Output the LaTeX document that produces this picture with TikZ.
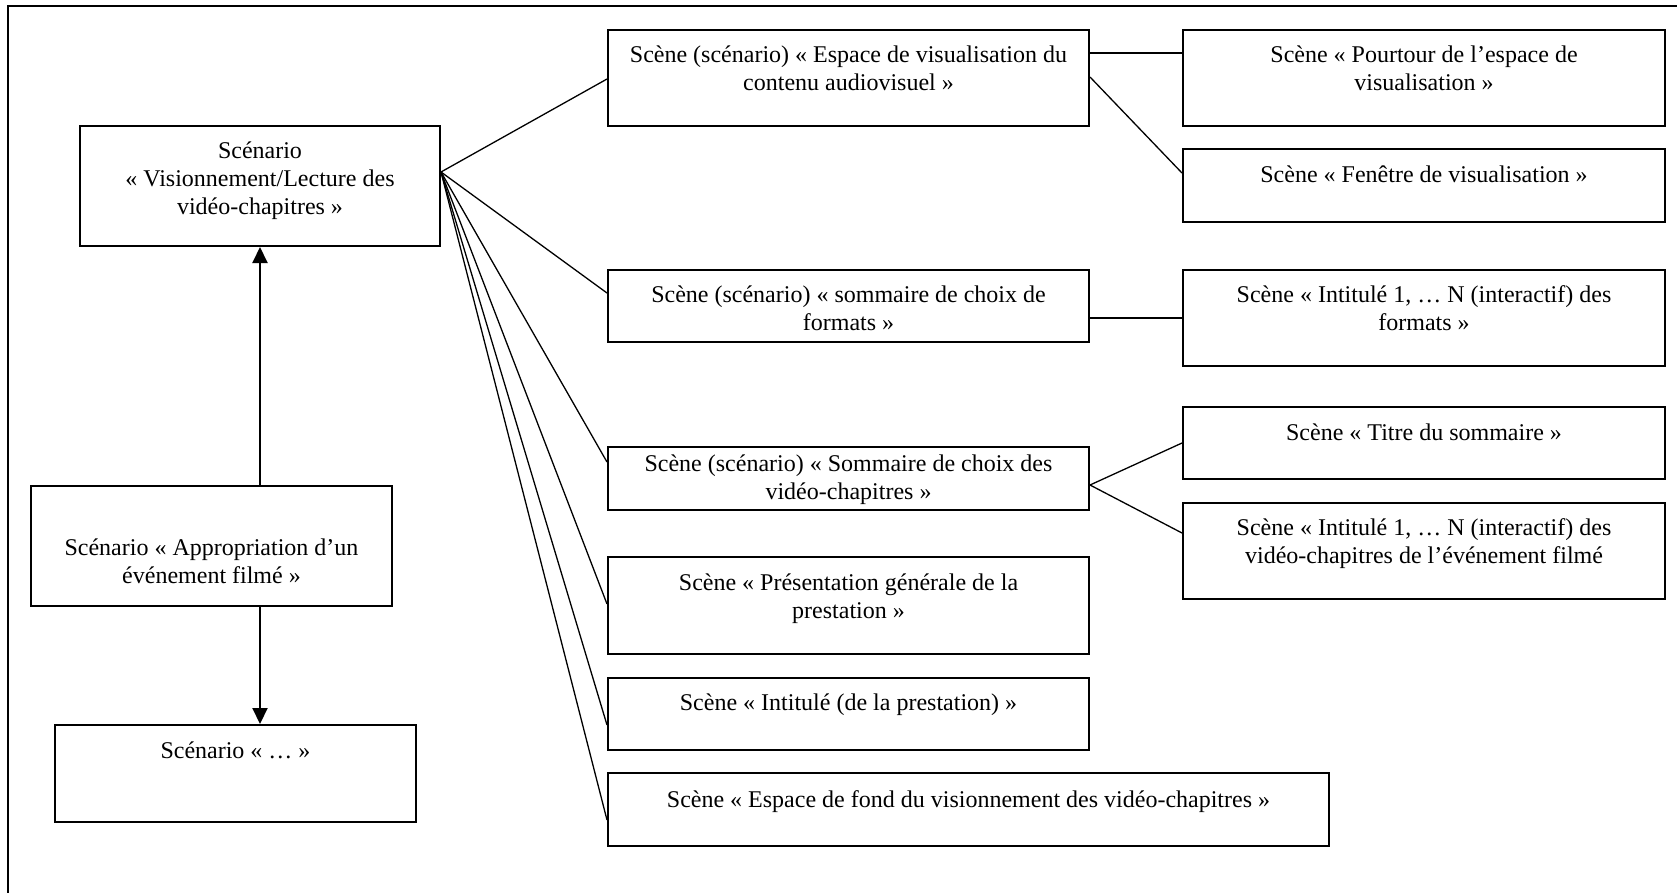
\documentclass[tikz,border=0pt]{standalone}
\usepackage{fontspec}
\setmainfont{Liberation Serif}
\usetikzlibrary{arrows.meta}
\tikzset{
  boxst/.style={draw=black, line width=2pt, rectangle, inner sep=0pt, fill=white},
  txtst/.style={inner sep=0pt, align=center, anchor=north, font=\fontsize{24}{28}\selectfont},
  link/.style={draw=black, line width=1.3pt},
  flow/.style={draw=black, line width=2pt, -{Triangle[length=16pt,width=15pt]}},
}
% name, x1, y1, x2, y2, first baseline, text
\newcommand{\mybox}[7]{%
  \node[boxst, minimum width={(#4-#2)*1pt}, minimum height={(#5-#3)*1pt}] (#1) at ({(#2+#4)/2},{(#3+#5)/2}) {};
  \node[txtst] (#1t) at ({(#2+#4)/2},{#6-19.6}) {\strut #7};
}
\begin{document}
\begin{tikzpicture}[x=1pt,y=-1pt]
\useasboundingbox (0,0) rectangle (1677,892);
\fill[white] (0,0) rectangle (1677,892);
% outer frame (only top and left edges are visible)
\coordinate (fTL) at (8,6);
\coordinate (fTR) at (1690,6);
\coordinate (fBL) at (8,905);
\draw[line width=2pt] (fBL) -- (fTL) -- (fTR);

\mybox{A}{80}{126}{440}{246}{158}{Scénario\\« Visionnement/Lecture des\\vidéo-chapitres »}
\mybox{B}{31}{486}{392}{606}{555}{Scénario « Appropriation d’un\\événement filmé »}
\mybox{C}{55}{725}{416}{822}{758}{Scénario « … »}

\mybox{S1}{608}{30}{1089}{126}{62}{Scène (scénario) « Espace de visualisation du\\contenu audiovisuel »}
\mybox{T1}{1183}{30}{1665}{126}{62}{Scène « Pourtour de l’espace de\\visualisation »}
\mybox{T2}{1183}{149}{1665}{222}{182}{Scène « Fenêtre de visualisation »}
\mybox{S2}{608}{270}{1089}{342}{302}{Scène (scénario) « sommaire de choix de\\formats »}
\mybox{U1}{1183}{270}{1665}{366}{302}{Scène « Intitulé 1, … N (interactif) des\\formats »}
\mybox{V1}{1183}{407}{1665}{479}{440}{Scène « Titre du sommaire »}
\mybox{S3}{608}{447}{1089}{510}{471}{Scène (scénario) « Sommaire de choix des\\vidéo-chapitres »}
\mybox{V2}{1183}{503}{1665}{599}{535}{Scène « Intitulé 1, … N (interactif) des\\vidéo-chapitres de l’événement filmé}
\mybox{S4}{608}{557}{1089}{654}{590}{Scène « Présentation générale de la\\prestation »}
\mybox{S5}{608}{678}{1089}{750}{710}{Scène « Intitulé (de la prestation) »}
\mybox{S6}{608}{773}{1329}{846}{807}{Scène « Espace de fond du visionnement des vidéo-chapitres »}

% fan from A
\coordinate (Ao) at ([yshift=14pt]A.east);
\draw[link] (Ao) -- ([yshift=-1pt]S1.west);
\draw[link] (Ao) -- ([yshift=13pt]S2.west);
\draw[link] (Ao) -- ([yshift=16.5pt]S3.west);
\draw[link] (Ao) -- ([yshift=1.5pt]S4.west);
\draw[link] (Ao) -- ([yshift=-11pt]S5.west);
\draw[link] (Ao) -- ([yshift=-10.5pt]S6.west);

% second level
\draw[link, line width=2pt] ([yshift=25pt]S1.east) -- ([yshift=25pt]T1.west);
\draw[link] ([yshift=1pt]S1.east) -- ([yshift=12.5pt]T2.west);
\draw[link, line width=2pt] ([yshift=-12pt]S2.east) -- ([yshift=0pt]U1.west);
\draw[link] ([yshift=-6.5pt]S3.east) -- ([yshift=0pt]V1.west);
\draw[link] ([yshift=-6.5pt]S3.east) -- ([yshift=18pt]V2.west);

% arrows
\draw[flow] (B.north -| A.south) -- (A.south);
\draw[flow] (B.south -| A.south) -- (C.north -| A.south);
\end{tikzpicture}
\end{document}
